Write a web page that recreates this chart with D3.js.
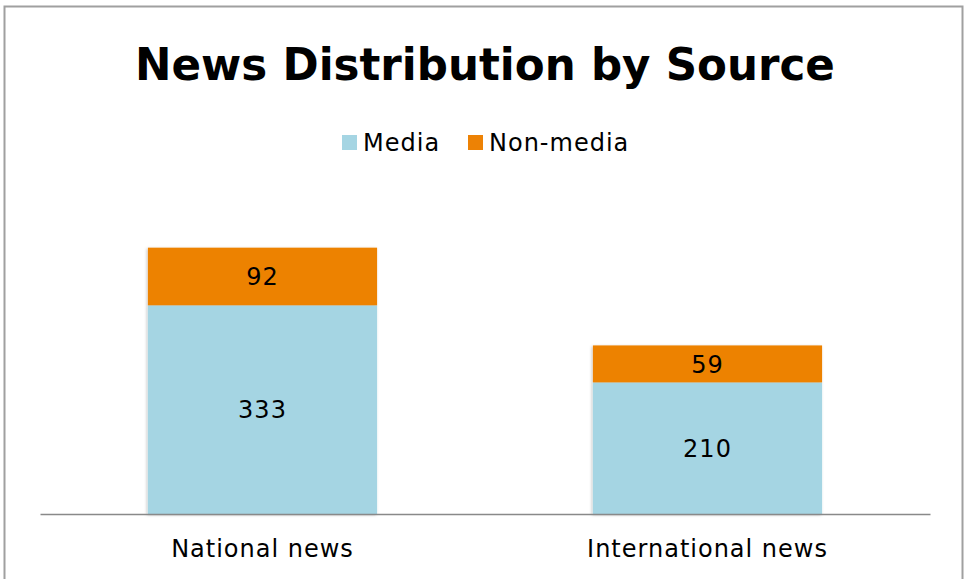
<!DOCTYPE html>
<html>
<head>
<meta charset="utf-8">
<script src="https://cdn.jsdelivr.net/npm/d3@7"></script>
<style>
  html, body { margin: 0; padding: 0; background: #fff; }
  svg { display: block; font-family: "DejaVu Sans", sans-serif; }
</style>
</head>
<body>
<div id="chart"></div>
<script>
// News distribution by source — stacked columns
const categories = ["National news", "International news"];
const seriesNames = ["Media", "Non-media"];
const media = [333, 210];
const nonMedia = [92, 59];

const colors = { "Media": "#a5d5e3", "Non-media": "#ed8205" };

const W = 966, H = 579;
const svg = d3.select("#chart").append("svg")
  .attr("width", W).attr("height", H);

const defs = svg.append("defs");
defs.append("filter").attr("id", "shadow")
  .attr("x", "-10%").attr("y", "-10%").attr("width", "120%").attr("height", "120%")
  .append("feDropShadow")
  .attr("dx", -1).attr("dy", 1).attr("stdDeviation", 1.5)
  .attr("flood-color", "#000").attr("flood-opacity", 0.25);

// chart frame
svg.append("rect")
  .attr("x", 4.5).attr("y", 6.5).attr("width", 958).attr("height", 585)
  .attr("fill", "#fff").attr("stroke", "#a0a0a0").attr("stroke-width", 2);

// title
const title = svg.append("text")
  .attr("x", 485).attr("y", 80)
  .attr("text-anchor", "middle")
  .attr("font-weight", "bold").attr("font-size", 44)
  .attr("fill", "#000")
  .text("News Distribution by Source");
const tw = title.node().getComputedTextLength();
title.attr("font-size", 44 * 700 / tw);

// legend
const legendItems = [
  { name: seriesNames[0], x: 342 },
  { name: seriesNames[1], x: 468 }
];
legendItems.forEach(d => {
  const g = svg.append("g").attr("transform", `translate(${d.x},135)`);
  g.append("rect").attr("width", 15).attr("height", 15).attr("fill", colors[d.name]);
  g.append("text").attr("x", 21).attr("y", 16)
    .attr("font-size", 24).attr("letter-spacing", 1)
    .attr("fill", "#000").text(d.name);
});

// scales
const x = d3.scaleBand().domain(categories).range([40, 930])
  .paddingInner(0.485).paddingOuter(0.2425);
const y = d3.scaleLinear().domain([0, 450]).range([514, 232]);

const stacked = categories.map((c, i) => ({
  cat: c,
  parts: [
    { name: "Media", y0: 0, y1: media[i], v: media[i] },
    { name: "Non-media", y0: media[i], y1: media[i] + nonMedia[i], v: nonMedia[i] }
  ]
}));

const barG = svg.append("g");
stacked.forEach(s => {
  const g = barG.append("g").attr("filter", "url(#shadow)");
  g.selectAll("rect")
    .data(s.parts)
    .join("rect")
    .attr("x", x(s.cat))
    .attr("width", x.bandwidth())
    .attr("y", d => y(d.y1))
    .attr("height", d => y(d.y0) - y(d.y1))
    .attr("fill", d => colors[d.name]);
});

// value labels
stacked.forEach(s => {
  barG.selectAll(null)
    .data(s.parts)
    .join("text")
    .attr("x", x(s.cat) + x.bandwidth() / 2)
    .attr("y", d => (y(d.y0) + y(d.y1)) / 2)
    .attr("dy", "0.36em")
    .attr("text-anchor", "middle")
    .attr("font-size", 24).attr("letter-spacing", 1)
    .attr("fill", "#000")
    .text(d => d.v);
});

// x axis
const axis = svg.append("g").attr("transform", "translate(0,514)")
  .call(d3.axisBottom(x).tickSize(0).tickPadding(26));
axis.select(".domain").attr("stroke", "#898989").attr("stroke-width", 1.5);
axis.selectAll("text").attr("font-size", 24).attr("letter-spacing", 1)
  .attr("fill", "#000")
  .attr("font-family", "DejaVu Sans, sans-serif");
</script>
</body>
</html>
